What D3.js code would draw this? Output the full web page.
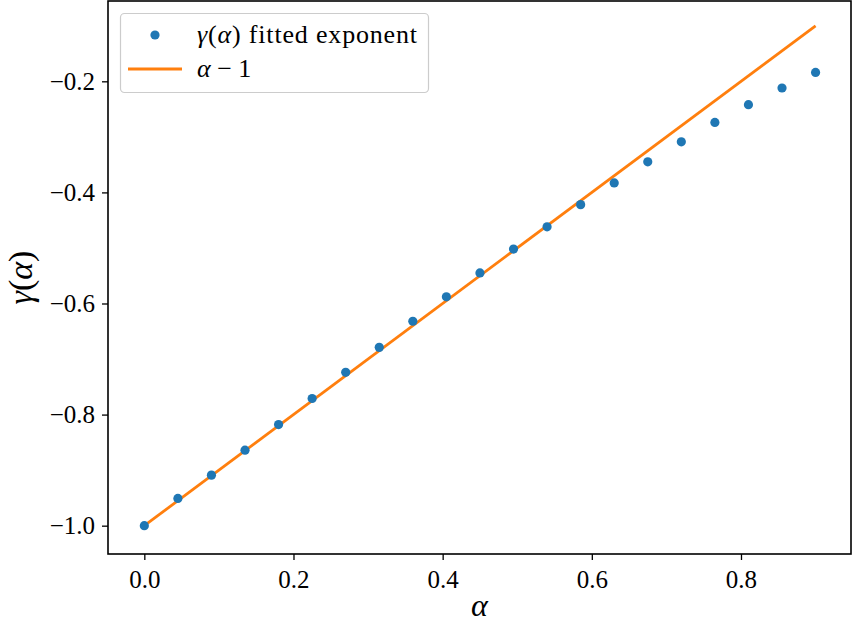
<!DOCTYPE html>
<html>
<head>
<meta charset="utf-8">
<script src="https://cdn.jsdelivr.net/npm/d3@7"></script>
<style>
  html, body { margin: 0; padding: 0; background: #fff; }
  svg { display: block; }
</style>
</head>
<body>
<svg id="chart" width="853" height="628"></svg>
<script>
// ---- data ----
const alphaValues = [0.000, 0.045, 0.090, 0.135, 0.180, 0.225, 0.270, 0.315, 0.360, 0.405,
                     0.450, 0.495, 0.540, 0.585, 0.630, 0.675, 0.720, 0.765, 0.810, 0.855, 0.900];
const gammaFitted = [-1.000, -0.951, -0.909, -0.864, -0.818, -0.771, -0.724, -0.679, -0.632, -0.588,
                     -0.545, -0.502, -0.462, -0.422, -0.383, -0.345, -0.309, -0.274, -0.242, -0.212, -0.184];
const lineAlpha = [0.0, 0.9];
const xTicks = [0.0, 0.2, 0.4, 0.6, 0.8];
const yTicks = [-1.0, -0.8, -0.6, -0.4, -0.2];

const svg = d3.select("#chart");
const L = 108, R = 851, T = 1, B = 554;
const serif = "'Liberation Serif', 'DejaVu Serif', serif";

const x = d3.scaleLinear().domain([-0.0487, 0.9475]).range([L, R]);
const y = d3.scaleLinear().domain([-1.051, -0.0554]).range([B, T]);

const fmt = v => { const s = Math.abs(v).toFixed(1); return v < 0 ? "\u2212" + s : s; };

// axes
const xAxis = d3.axisBottom(x).tickValues(xTicks).tickFormat(fmt).tickSizeOuter(0).tickSize(6).tickPadding(8);
const yAxis = d3.axisLeft(y).tickValues(yTicks).tickFormat(fmt).tickSizeOuter(0).tickSize(6).tickPadding(7);

const gx = svg.append("g").attr("transform", `translate(0,${B})`).call(xAxis);
const gy = svg.append("g").attr("transform", `translate(${L},0)`).call(yAxis);
[gx, gy].forEach(g => {
  g.attr("font-family", serif).attr("font-size", 25);
  g.select(".domain").remove();
  g.selectAll(".tick line").attr("stroke", "#000").attr("stroke-width", 1.3);
  g.selectAll(".tick text").attr("font-family", serif).attr("font-size", 25).attr("fill", "#000");
});
gx.selectAll(".tick text").attr("dy", "0.78em");

// line alpha - 1
svg.append("path")
  .datum(lineAlpha)
  .attr("fill", "none")
  .attr("stroke", "#ff7f0e")
  .attr("stroke-width", 2.8)
  .attr("d", d3.line().x(d => x(d)).y(d => y(d - 1)));

// points
svg.append("g").selectAll("circle")
  .data(alphaValues.map((a, i) => [a, gammaFitted[i]]))
  .join("circle")
  .attr("cx", d => x(d[0]))
  .attr("cy", d => y(d[1]))
  .attr("r", 4.6)
  .attr("fill", "#1f77b4");

// frame
svg.append("rect")
  .attr("x", L).attr("y", T).attr("width", R - L).attr("height", B - T)
  .attr("fill", "none").attr("stroke", "#000").attr("stroke-width", 1.6);

// legend
const lg = svg.append("g");
lg.append("rect")
  .attr("x", 120.5).attr("y", 13.5).attr("width", 308).attr("height", 79)
  .attr("rx", 4).attr("ry", 4)
  .attr("fill", "#fff").attr("fill-opacity", 0.8)
  .attr("stroke", "#cccccc").attr("stroke-width", 1.2);
lg.append("circle").attr("cx", 155).attr("cy", 35).attr("r", 4.6).attr("fill", "#1f77b4");
lg.append("line").attr("x1", 128).attr("x2", 182).attr("y1", 69).attr("y2", 69)
  .attr("stroke", "#ff7f0e").attr("stroke-width", 2.8);

const t1 = lg.append("text").attr("x", 197).attr("y", 43)
  .attr("font-family", serif).attr("font-size", 26).attr("fill", "#000")
  .attr("textLength", 220).attr("lengthAdjust", "spacing");
t1.append("tspan").attr("font-style", "italic").text("\u03b3");
t1.append("tspan").text("(");
t1.append("tspan").attr("font-style", "italic").text("\u03b1");
t1.append("tspan").text(") fitted exponent");

const t2 = lg.append("text").attr("x", 197).attr("y", 77)
  .attr("font-family", serif).attr("font-size", 26).attr("fill", "#000");
t2.append("tspan").attr("font-style", "italic").text("\u03b1");
t2.append("tspan").text(" \u2212 1");

// axis labels
svg.append("text")
  .attr("x", (L + R) / 2).attr("y", 616)
  .attr("text-anchor", "middle")
  .attr("font-family", serif).attr("font-style", "italic").attr("font-size", 32)
  .text("\u03b1");

const yl = svg.append("text")
  .attr("transform", `translate(32,${(T + B) / 2}) rotate(-90)`)
  .attr("text-anchor", "middle")
  .attr("font-family", serif).attr("font-size", 34);
yl.append("tspan").attr("font-style", "italic").text("\u03b3");
yl.append("tspan").text("(");
yl.append("tspan").attr("font-style", "italic").text("\u03b1");
yl.append("tspan").text(")");
</script>
</body>
</html>
